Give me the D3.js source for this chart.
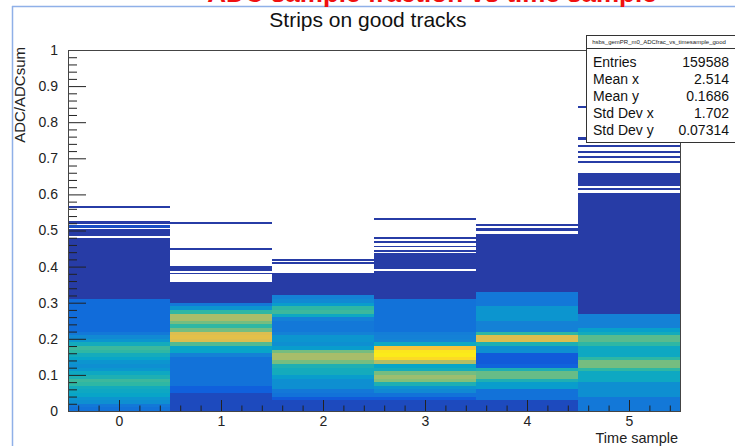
<!DOCTYPE html>
<html>
<head>
<meta charset="utf-8">
<script src="https://cdn.jsdelivr.net/npm/d3@7"></script>
<style>
  html, body { margin: 0; padding: 0; background: #ffffff; }
  svg { display: block; }
  text { font-family: "Liberation Sans", Arial, Helvetica, sans-serif; }
</style>
</head>
<body>
<script>
// ---------------- data ----------------
const timeSamples = [0, 1, 2, 3, 4, 5];
const xTickLabels = ["0", "1", "2", "3", "4", "5"];
const yTickValues = [0, 0.1, 0.2, 0.3, 0.4, 0.5, 0.6, 0.7, 0.8, 0.9, 1];
const yTickLabels = ["0", "0.1", "0.2", "0.3", "0.4", "0.5", "0.6", "0.7", "0.8", "0.9", "1"];
const yBinWidth = 0.01;

// colour level (0..1 on the palette) of the dense bins, from ADC/ADCsum = 0 upward, per time sample
const levels0 = [0.2, 0.22, 0.3, 0.32, 0.38, 0.4, 0.42, 0.5, 0.52, 0.45, 0.4, 0.33, 0.3, 0.32, 0.38, 0.42, 0.5, 0.52, 0.42, 0.32, 0.28, 0.22, 0.18, 0.18, 0.18, 0.18, 0.18, 0.18, 0.18, 0.18, 0.18];
const levels1 = [0.08, 0.08, 0.08, 0.08, 0.08, 0.14, 0.14, 0.2, 0.2, 0.2, 0.2, 0.2, 0.2, 0.2, 0.2, 0.25, 0.38, 0.38, 0.55, 0.78, 0.8, 0.78, 0.6, 0.5, 0.6, 0.68, 0.68, 0.5, 0.32, 0.22];
const levels2 = [0.08, 0.08, 0.08, 0.12, 0.2, 0.22, 0.3, 0.3, 0.3, 0.35, 0.42, 0.42, 0.45, 0.6, 0.68, 0.68, 0.6, 0.35, 0.3, 0.32, 0.32, 0.25, 0.22, 0.22, 0.22, 0.25, 0.4, 0.52, 0.5, 0.35, 0.28, 0.25];
const levels3 = [0.08, 0.08, 0.08, 0.12, 0.2, 0.28, 0.32, 0.45, 0.62, 0.66, 0.6, 0.42, 0.38, 0.7, 0.92, 0.96, 0.95, 0.85, 0.4, 0.26, 0.25, 0.24, 0.2, 0.2, 0.2, 0.2, 0.2, 0.2, 0.2, 0.2, 0.2];
const levels4 = [0.08, 0.08, 0.08, 0.2, 0.2, 0.2, 0.35, 0.35, 0.45, 0.58, 0.58, 0.45, 0.15, 0.12, 0.12, 0.12, 0.3, 0.3, 0.45, 0.78, 0.78, 0.5, 0.25, 0.25, 0.25, 0.32, 0.32, 0.32, 0.32, 0.22, 0.22, 0.22, 0.22];
const levels5 = [0.22, 0.22, 0.22, 0.22, 0.3, 0.3, 0.3, 0.3, 0.4, 0.4, 0.4, 0.5, 0.6, 0.6, 0.5, 0.4, 0.4, 0.4, 0.5, 0.56, 0.56, 0.42, 0.36, 0.25, 0.25, 0.25, 0.25];
const denseLevels = [levels0, levels1, levels2, levels3, levels4, levels5];

// sparse (low-count) ranges above the dense part: [from, to, level]
const sparse0 = [[0.31, 0.478, 0.045], [0.484, 0.503, 0.045], [0.508, 0.514, 0.09], [0.519, 0.526, 0.045], [0.563, 0.569, 0.045]];
const sparse1 = [[0.30, 0.356, 0.045], [0.379, 0.383, 0.045], [0.388, 0.403, 0.045], [0.445, 0.451, 0.045], [0.518, 0.524, 0.045]];
const sparse2 = [[0.32, 0.381, 0.045], [0.408, 0.413, 0.045], [0.416, 0.421, 0.045]];
const sparse3 = [[0.31, 0.387, 0.045], [0.392, 0.437, 0.045], [0.441, 0.446, 0.045], [0.453, 0.458, 0.045], [0.466, 0.471, 0.045], [0.476, 0.481, 0.045], [0.528, 0.534, 0.045]];
const sparse4 = [[0.33, 0.49, 0.045], [0.5, 0.506, 0.045], [0.512, 0.518, 0.045]];
const sparse5 = [[0.27, 0.605, 0.045], [0.611, 0.617, 0.045], [0.623, 0.658, 0.045], [0.686, 0.692, 0.045], [0.7, 0.706, 0.045], [0.714, 0.72, 0.045], [0.732, 0.738, 0.045], [0.752, 0.758, 0.045], [0.838, 0.844, 0.045]];
const sparseRanges = [sparse0, sparse1, sparse2, sparse3, sparse4, sparse5];

const statsName = "hsbs_gemPR_m0_ADCfrac_vs_timesample_good";
const statsLabels = ["Entries", "Mean x", "Mean y", "Std Dev x", "Std Dev y"];
const statsValues = ["159588", "2.514", "0.1686", "1.702", "0.07314"];

const titleText = "Strips on good tracks";
const topBannerText = "ADC sample fraction vs time sample";
const xTitle = "Time sample";
const yTitle = "ADC/ADCsum";

// ROOT kBird palette stops
const birdStops = [0, 0.125, 0.25, 0.375, 0.5, 0.625, 0.75, 0.875, 1];
const birdColors = ["#352a87", "#0f5cdd", "#1481d6", "#06a4ca", "#2eb7a4", "#87bf77", "#d1bb59", "#fec832", "#f9fb0e"];

// ---------------- drawing ----------------
const W = 735, H = 446;
const svg = d3.select("body").append("svg").attr("width", W).attr("height", H);

const frame = { left: 68, right: 680, top: 50, bottom: 411 };
const x = d3.scaleLinear().domain([-0.5, 5.5]).range([frame.left, frame.right]);
const y = d3.scaleLinear().domain([0, 1]).range([frame.bottom, frame.top]);
const color = d3.scaleLinear().domain(birdStops).range(birdColors).interpolate(d3.interpolateRgb).clamp(true);

// canvas border (light blue)
svg.append("line").attr("x1", 12.5).attr("x2", 12.5).attr("y1", 6).attr("y2", H)
  .attr("stroke", "#8fb0e8").attr("stroke-width", 1.5);
svg.append("line").attr("x1", 12).attr("x2", W).attr("y1", 6.5).attr("y2", 6.5)
  .attr("stroke", "#8fb0e8").attr("stroke-width", 1.5);

// partially visible red banner text above the canvas (cut off at the top, as in the original)
svg.append("text").attr("x", 432).attr("y", 2).attr("text-anchor", "middle")
  .attr("font-size", 26).attr("font-weight", "bold").attr("fill", "#f01010").text(topBannerText);

// title
svg.append("text").attr("x", 368).attr("y", 27).attr("text-anchor", "middle")
  .attr("font-size", 21).attr("fill", "#111").text(titleText);

// cells
const cells = svg.append("g").attr("shape-rendering", "crispEdges");
timeSamples.forEach((t, c) => {
  const x0 = x(t - 0.5), x1 = x(t + 0.5);
  denseLevels[c].forEach((lv, i) => {
    cells.append("rect")
      .attr("x", x0).attr("width", x1 - x0)
      .attr("y", y((i + 1) * yBinWidth)).attr("height", y(i * yBinWidth) - y((i + 1) * yBinWidth))
      .attr("fill", color(lv));
  });
  sparseRanges[c].forEach(([lo, hi, lv]) => {
    cells.append("rect")
      .attr("x", x0).attr("width", x1 - x0)
      .attr("y", y(hi)).attr("height", y(lo) - y(hi))
      .attr("fill", color(lv));
  });
});

// axes
const axisColor = "#222";
const xMinor = d3.range(-0.4, 5.5, 0.2).map(v => +v.toFixed(2)).filter(v => Math.abs(v - Math.round(v)) > 1e-6);
const gxMinor = svg.append("g").attr("transform", `translate(0,${frame.bottom})`)
  .call(d3.axisBottom(x).tickValues(xMinor).tickSizeInner(-5.5).tickSizeOuter(0).tickFormat(""));
const gx = svg.append("g").attr("transform", `translate(0,${frame.bottom})`)
  .call(d3.axisBottom(x).tickValues(timeSamples).tickSizeInner(-11).tickSizeOuter(0).tickPadding(5)
    .tickFormat((d, i) => xTickLabels[i]));

const yMinor = d3.range(0.02, 1, 0.02).map(v => +v.toFixed(2)).filter(v => Math.abs(v * 10 - Math.round(v * 10)) > 1e-6);
const gyMinor = svg.append("g").attr("transform", `translate(${frame.left},0)`)
  .call(d3.axisLeft(y).tickValues(yMinor).tickSizeInner(-9).tickSizeOuter(0).tickFormat(""));
const gy = svg.append("g").attr("transform", `translate(${frame.left},0)`)
  .call(d3.axisLeft(y).tickValues(yTickValues).tickSizeInner(-18).tickSizeOuter(0).tickPadding(10)
    .tickFormat((d, i) => yTickLabels[i]));

[gx, gxMinor, gy, gyMinor].forEach(g => {
  g.select(".domain").remove();
  g.selectAll(".tick line").attr("stroke", axisColor).attr("stroke-width", 1);
  g.selectAll(".tick text").attr("fill", axisColor).attr("font-size", 14)
    .attr("font-family", "'Liberation Sans', Arial, sans-serif");
});

// frame
svg.append("rect").attr("x", frame.left + 0.5).attr("y", frame.top + 0.5)
  .attr("width", frame.right - frame.left).attr("height", frame.bottom - frame.top)
  .attr("fill", "none").attr("stroke", "#444").attr("stroke-width", 1);

// axis titles
svg.append("text").attr("x", frame.right - 2).attr("y", 442.5).attr("text-anchor", "end")
  .attr("font-size", 14.5).attr("fill", axisColor).text(xTitle);
svg.append("text").attr("transform", `translate(25,${frame.top - 3}) rotate(-90)`).attr("text-anchor", "end")
  .attr("font-size", 15).attr("fill", axisColor).text(yTitle);

// statistics box
const box = { x: 586, y: 35, w: 152, h: 107 };
const sb = svg.append("g");
sb.append("rect").attr("x", box.x + 0.5).attr("y", box.y + 0.5).attr("width", box.w).attr("height", box.h)
  .attr("fill", "#fff").attr("stroke", "#333").attr("stroke-width", 1);
sb.append("line").attr("x1", box.x).attr("x2", box.x + box.w).attr("y1", box.y + 13.5).attr("y2", box.y + 13.5)
  .attr("stroke", "#333").attr("stroke-width", 1);
sb.append("text").attr("x", box.x + 73).attr("y", box.y + 9).attr("text-anchor", "middle")
  .attr("font-size", 6).attr("fill", "#222").text(statsName);
statsLabels.forEach((lab, i) => {
  const ty = box.y + 32 + i * 17;
  sb.append("text").attr("x", box.x + 7).attr("y", ty).attr("font-size", 14).attr("fill", "#111").text(lab);
  sb.append("text").attr("x", 729).attr("y", ty).attr("text-anchor", "end").attr("font-size", 14).attr("fill", "#111").text(statsValues[i]);
});
</script>
</body>
</html>
